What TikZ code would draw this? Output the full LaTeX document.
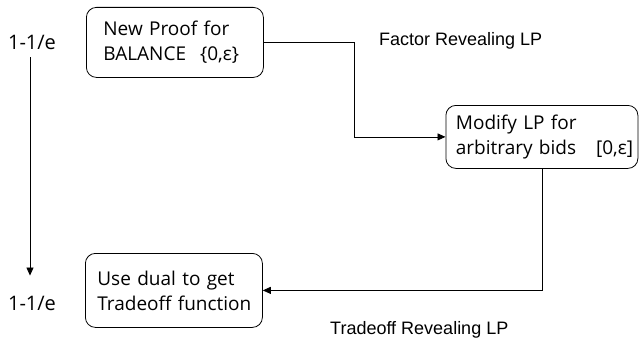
\documentclass[tikz,border=0pt]{standalone}
\usepackage{fontspec}
\setmainfont{Liberation Sans}
\newfontfamily\boxfont{Open Sans}
\usetikzlibrary{arrows.meta}
\newcommand\stageline[1]{\mbox{#1}}
\begin{document}
\begin{tikzpicture}[x=1pt,y=-1pt,
  stage/.style={draw, line width=0.8pt, rounded corners=10pt, anchor=north west,
    inner ysep=0pt, align=left, font=\boxfont\fontsize{19}{25}\selectfont},
  levellabel/.style={font=\boxfont\fontsize{20}{22}\selectfont, inner sep=0pt},
  lplabel/.style={font=\fontsize{18}{22}\selectfont, inner sep=0pt, anchor=base west},
  flow/.style={line width=0.8pt, -{Triangle[length=8pt,width=7pt]}}]
  \useasboundingbox (0,0) rectangle (639,337);

  % the three steps of the argument
  \node[stage, minimum width=177pt, minimum height=70pt, inner xsep=17pt, text width=143pt] (proof) at (86,7)
    {\stageline{New Proof for}\\\stageline{BALANCE\hspace{14pt}\{0,ε\}}};
  \node[stage, minimum width=192pt, minimum height=63pt, inner xsep=10pt, text width=172pt] (modify) at (445.5,105)
    {\stageline{Modify LP for}\\\stageline{arbitrary bids\hspace{20pt}[0,ε]}};
  \node[stage, minimum width=177pt, minimum height=74pt, inner xsep=12pt, text width=153pt] (dual) at (85,253)
    {\stageline{Use dual to get}\\\stageline{Tradeoff function}};

  % ratios on the left
  \node[levellabel] (top) at (32,42) {1-1/e};
  \node[levellabel] (bottom) at (32,303) {1-1/e};

  % names of the two LPs
  \node[lplabel] (factor) at (379,45.7) {Factor Revealing LP};
  \node[lplabel] (tradeoff) at (330,334.5) {Tradeoff Revealing LP};

  % connectors
  \draw[flow] (proof.east) -- ++(91,0) |- (modify.west);
  \draw[flow] (modify.south) |- (dual.east);
  \draw[flow, shorten <=8pt, shorten >=20pt] (top.south -| 30,0) -- (bottom.north -| 30,0);
\end{tikzpicture}
\end{document}
